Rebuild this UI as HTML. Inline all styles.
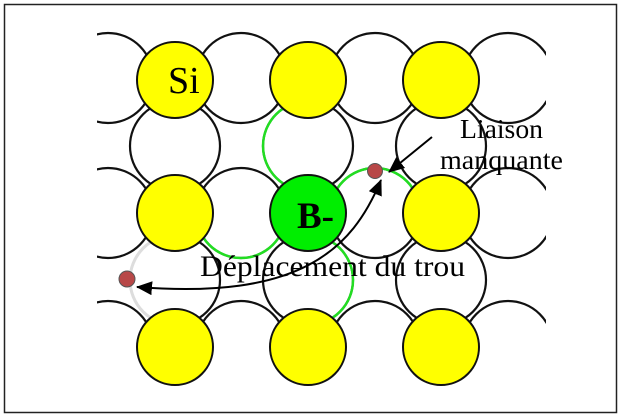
<!DOCTYPE html>
<html><head><style>
html,body{margin:0;padding:0;background:#fff;width:621px;height:417px;overflow:hidden}
</style></head><body>
<svg width="621" height="417" viewBox="0 0 621 417" xmlns="http://www.w3.org/2000/svg">
<rect x="4.5" y="4.5" width="612" height="408" fill="#fff" stroke="#222" stroke-width="1.5"/>
<defs>
<clipPath id="c"><rect x="97" y="25" width="449" height="322"/></clipPath>
<marker id="ah2" markerWidth="16" markerHeight="14" refX="15" refY="7" orient="auto-start-reverse" markerUnits="userSpaceOnUse" viewBox="0 0 16 14"><path d="M0,0 L16,7 L0,14 z" fill="#000"/></marker>
</defs>
<g clip-path="url(#c)" fill="none" stroke="#111" stroke-width="2.2">
<circle cx="108" cy="78" r="45"/><circle cx="241" cy="78" r="45"/><circle cx="375" cy="78" r="45"/><circle cx="508" cy="78" r="45"/>
<circle cx="108" cy="213" r="45"/><circle cx="241" cy="213" r="45"/><circle cx="375" cy="213" r="45"/><circle cx="508" cy="213" r="45"/>
<circle cx="108" cy="346" r="45"/><circle cx="241" cy="346" r="45"/><circle cx="375" cy="346" r="45"/><circle cx="508" cy="346" r="45"/>
<circle cx="175" cy="146" r="45"/><circle cx="308" cy="146" r="45"/><circle cx="441" cy="146" r="45"/>
<circle cx="175" cy="280" r="45"/><circle cx="308" cy="280" r="45"/><circle cx="441" cy="280" r="45"/>
</g>
<path d="M175,235 A45,45 0 0 0 175,325" fill="none" stroke="#ddd" stroke-width="3"/>
<g fill="none" stroke="#22dd22" stroke-width="2.5">
<path d="M308,101 A45,45 0 0 0 308,191"/>
<path d="M330,213 A45,45 0 0 1 420,213"/>
<path d="M196,213 A45,45 0 0 0 286,213"/>
<path d="M308,235 A45,45 0 0 1 308,325"/>
</g>
<g stroke="#111" stroke-width="2" fill="#ffff00">
<circle cx="175" cy="80" r="38"/><circle cx="308" cy="80" r="38"/><circle cx="441" cy="80" r="38"/>
<circle cx="175" cy="213" r="38"/><circle cx="308" cy="213" r="38" fill="#00ee00"/><circle cx="441" cy="213" r="38"/>
<circle cx="175" cy="347" r="38"/><circle cx="308" cy="347" r="38"/><circle cx="441" cy="347" r="38"/>
</g>
<text x="168" y="93" font-family="Liberation Serif, serif" font-size="38" fill="#000">Si</text>
<text x="297" y="228" font-family="Liberation Serif, serif" font-size="37" font-weight="bold" fill="#000">B-</text>
<circle cx="375" cy="171" r="7.5" fill="#b84848" stroke="#555" stroke-width="1"/>
<circle cx="127" cy="279" r="8" fill="#b84848" stroke="#555" stroke-width="1"/>
<path d="M432,137 L389,172" stroke="#000" stroke-width="2" fill="none" marker-end="url(#ah2)"/>
<text x="200" y="276" font-family="Liberation Serif, serif" font-size="30" textLength="265" lengthAdjust="spacingAndGlyphs" fill="#000">Déplacement du trou</text>
<path d="M381,180 C352,250 300,300 137,287" stroke="#000" stroke-width="2" fill="none" marker-start="url(#ah2)" marker-end="url(#ah2)"/>
<text x="460" y="138" font-family="Liberation Serif, serif" font-size="27" textLength="83" lengthAdjust="spacingAndGlyphs" fill="#000">Liaison</text>
<text x="440" y="169" font-family="Liberation Serif, serif" font-size="27" textLength="123" lengthAdjust="spacingAndGlyphs" fill="#000">manquante</text>
</svg>
</body></html>
